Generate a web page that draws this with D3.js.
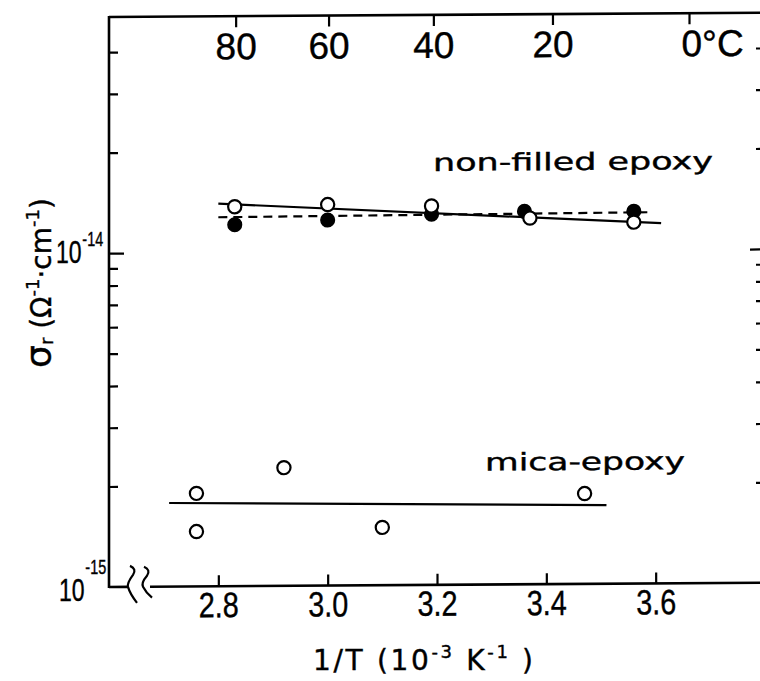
<!DOCTYPE html>
<html>
<head>
<meta charset="utf-8">
<script src="https://cdn.jsdelivr.net/npm/d3@7"></script>
<style>
  body { margin: 0; background: #fff; }
  text { font-family: "DejaVu Sans", "Liberation Sans", sans-serif; fill: #000; stroke: #000; stroke-width: 0.4; }
  .narrow { font-family: "Liberation Sans", Arial, sans-serif; }
</style>
</head>
<body>
<svg id="chart" width="760" height="681"></svg>
<script>
// 1/T in 10^-3 K^-1, conductivity in ohm^-1 cm^-1
const openX = [2.83, 3.00, 3.19, 3.37, 3.56]
const openY = [1.37e-14, 1.385e-14, 1.365e-14, 1.25e-14, 1.21e-14]
const filledX = [2.83, 3.00, 3.19, 3.36, 3.56]
const filledY = [1.21e-14, 1.245e-14, 1.29e-14, 1.31e-14, 1.305e-14]
const solidFit = [[2.80, 1.40e-14], [3.61, 1.20e-14]]
const dashedFit = [[2.80, 1.275e-14], [3.59, 1.295e-14]]

const micaX = [2.76, 2.76, 2.92, 3.10, 3.47]
const micaY = [1.90e-15, 1.46e-15, 2.26e-15, 1.49e-15, 1.865e-15]
const micaFit = [[2.71, 1.78e-15], [3.51, 1.72e-15]]

const bottomTicks = [2.8, 3.0, 3.2, 3.4, 3.6]
const celsiusTicks = [80, 60, 40, 20, 0]
const minorTicksY = [2e-15, 3e-15, 4e-15, 5e-15, 6e-15, 7e-15, 8e-15, 9e-15, 2e-14, 3e-14, 4e-14]
const majorTicksY = [1e-14]

const svg = d3.select('#chart')

const x0 = 109
const x1 = 765
const y0 = 17
const y1 = 587

const x = d3.scaleLinear().domain([2.6, 3.8]).range([x0, x1])
const y = d3.scaleLog().domain([1e-15, 5.1e-14]).range([y1, y0])
const invT = c => 1000 / (c + 273.15)

// the scan is slightly tilted: horizontal lines rise toward the right
const tilt = 0.0065
const plot = svg.append('g')
  .attr('transform', `matrix(1,${-tilt},0,1,0,${tilt * x0})`)

// frame
const frame = plot.append('g')
  .attr('stroke', '#000').attr('stroke-width', 2.6).attr('fill', 'none')
frame.append('line').attr('x1', x0).attr('x2', x0).attr('y1', y0 - 1).attr('y2', y1 + 1)
frame.append('line').attr('x1', x0).attr('x2', x1).attr('y1', y0).attr('y2', y0)
frame.append('line').attr('x1', x1).attr('x2', x1).attr('y1', y0).attr('y2', y1)
frame.append('line').attr('x1', x0).attr('x2', 128).attr('y1', y1).attr('y2', y1)
frame.append('line').attr('x1', 150).attr('x2', x1).attr('y1', y1).attr('y2', y1)
// axis break
frame.append('path').attr('stroke-width', 2.2)
  .attr('d', 'M130,566 Q137,569 133,575 Q127,583 128,587 Q130,594 137,603')
frame.append('path').attr('stroke-width', 2.2)
  .attr('d', 'M144,567 Q151,570 147,576 Q141,583 143,587 Q146,593 152,598')

// bottom axis
const xAxis = plot.append('g')
  .attr('transform', `translate(0,${y1})`)
  .call(d3.axisBottom(x).tickValues(bottomTicks).tickSize(-11).tickPadding(6)
    .tickFormat(d3.format('.1f')))
xAxis.select('.domain').remove()
xAxis.selectAll('line').attr('stroke-width', 2.2)
xAxis.selectAll('text')
  .attr('class', 'narrow').attr('font-family', null)
  .attr('font-size', 35)
  .attr('textLength', 40).attr('lengthAdjust', 'spacingAndGlyphs')

// top axis in Celsius
const topAxis = plot.append('g')
  .attr('transform', `translate(0,${y0})`)
  .call(d3.axisTop(x).tickValues(celsiusTicks.map(invT)).tickSize(-11).tickPadding(-43)
    .tickFormat((d, i) => celsiusTicks[i]))
topAxis.select('.domain').remove()
topAxis.selectAll('line').attr('stroke-width', 2.2)
topAxis.selectAll('text')
  .attr('class', 'narrow').attr('font-family', null)
  .attr('font-size', 37)
topAxis.selectAll('.tick').filter((d, i) => celsiusTicks[i] === 0).select('text')
  .attr('text-anchor', 'start').attr('x', -8).text('0°C')

// left and right log axes, ticks only
const leftAxis = plot.append('g')
  .attr('transform', `translate(${x0},0)`)
  .call(d3.axisLeft(y).tickValues(minorTicksY.concat(majorTicksY)).tickSize(-9).tickFormat(''))
leftAxis.select('.domain').remove()
leftAxis.selectAll('line').attr('stroke-width', 2.2)
leftAxis.selectAll('.tick').filter(d => majorTicksY.includes(d)).select('line').attr('x2', 15)

const rightAxis = plot.append('g')
  .attr('transform', `translate(${x1},0)`)
  .call(d3.axisRight(y).tickValues(minorTicksY.concat(majorTicksY)).tickSize(-9).tickFormat(''))
rightAxis.select('.domain').remove()
rightAxis.selectAll('line').attr('stroke-width', 2.2)
rightAxis.selectAll('.tick').filter(d => majorTicksY.includes(d)).select('line').attr('x2', -15)

// y tick labels 10^-14, 10^-15 (squeezed horizontally like the original lettering)
const decadeLabels = [
  { v: 1e-14, exp: '-14', bx: 56, dy: 10, edy: -17 },
  { v: 1e-15, exp: '-15', bx: 59, dy: 14, edy: -27 }
]
decadeLabels.forEach(d => {
  const t = svg.append('text').attr('class', 'narrow')
    .attr('transform', `translate(${d.bx},${y(d.v) + d.dy}) scale(0.72,1)`)
    .attr('font-size', 32)
  t.append('tspan').text('10')
  t.append('tspan').attr('font-size', 20).attr('dx', 1).attr('dy', d.edy).text(d.exp)
})

// fitted lines
const line = d3.line().x(d => x(d[0])).y(d => y(d[1]))
plot.append('path').datum(solidFit).attr('d', line)
  .attr('stroke', '#000').attr('stroke-width', 2.2).attr('fill', 'none')
plot.append('path').datum(dashedFit).attr('d', line)
  .attr('stroke', '#000').attr('stroke-width', 2.2).attr('fill', 'none')
  .attr('stroke-dasharray', '9,6')
plot.append('path').datum(micaFit).attr('d', line)
  .attr('stroke', '#000').attr('stroke-width', 2.2).attr('fill', 'none')

// points
plot.append('g').selectAll('circle')
  .data(d3.zip(filledX, filledY)).join('circle')
  .attr('cx', d => x(d[0])).attr('cy', d => y(d[1])).attr('r', 6.8)
  .attr('fill', '#000').attr('stroke', '#000').attr('stroke-width', 1.5)
plot.append('g').selectAll('circle')
  .data(d3.zip(openX, openY)).join('circle')
  .attr('cx', d => x(d[0])).attr('cy', d => y(d[1])).attr('r', 6.6)
  .attr('fill', '#fff').attr('stroke', '#000').attr('stroke-width', 2.2)
plot.append('g').selectAll('circle')
  .data(d3.zip(micaX, micaY)).join('circle')
  .attr('cx', d => x(d[0])).attr('cy', d => y(d[1])).attr('r', 6.6)
  .attr('fill', '#fff').attr('stroke', '#000').attr('stroke-width', 2.2)

// series labels
plot.append('text').attr('x', 433).attr('y', 173)
  .attr('font-size', 24).attr('textLength', 280).attr('lengthAdjust', 'spacingAndGlyphs')
  .text('non-filled epoxy')
plot.append('text').attr('x', 485).attr('y', 473)
  .attr('font-size', 24).attr('textLength', 200).attr('lengthAdjust', 'spacingAndGlyphs')
  .text('mica-epoxy')

// axis titles
const xt = svg.append('text').attr('x', 313).attr('y', 670).attr('font-size', 28)
  .attr('textLength', 220).attr('lengthAdjust', 'spacing')
xt.append('tspan').text('1/T  (10')
xt.append('tspan').attr('font-size', 18).attr('dy', -12).text('-3')
xt.append('tspan').attr('dy', 12).text(' K')
xt.append('tspan').attr('font-size', 18).attr('dy', -12).text('-1')
xt.append('tspan').attr('dy', 12).text(' )')

const yt = svg.append('text')
  .attr('transform', 'translate(51,283) rotate(-90)')
  .attr('text-anchor', 'middle').attr('font-size', 28)
yt.append('tspan').attr('font-size', 36).text('σ')
yt.append('tspan').attr('font-size', 18).attr('dy', 2).text('r')
yt.append('tspan').attr('dy', -2).text('  (Ω')
yt.append('tspan').attr('font-size', 18).attr('dy', -12).text('-1')
yt.append('tspan').attr('dy', 12).text('·cm')
yt.append('tspan').attr('font-size', 18).attr('dy', -12).text('-1')
yt.append('tspan').attr('dy', 12).text(')')
</script>
</body>
</html>
